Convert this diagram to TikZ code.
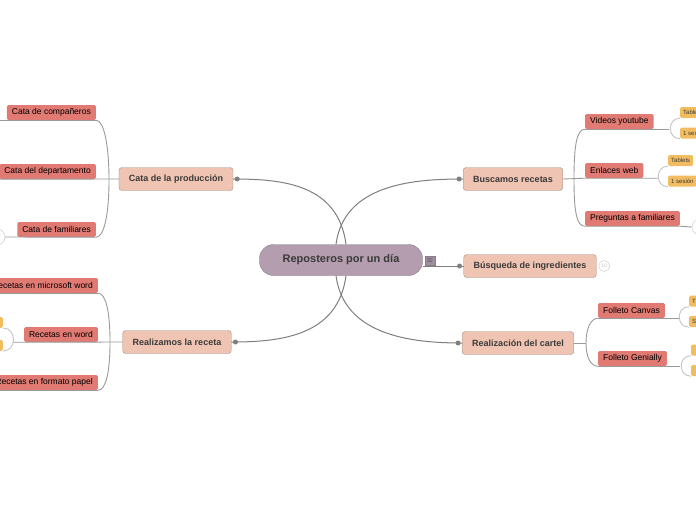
\documentclass[tikz,border=0pt]{standalone}
\usepackage{fontspec}
\setmainfont{Liberation Sans}
\usepackage{tikz}
\usetikzlibrary{arrows.meta,calc,positioning}
\usepackage{xcolor}
\definecolor{RootMauve}{HTML}{B39DAE}
\definecolor{RootEdge}{HTML}{8C7A88}
\definecolor{MainPeach}{HTML}{F0C4B2}
\definecolor{MainEdge}{HTML}{A0928C}
\definecolor{SubRed}{HTML}{E07A72}
\definecolor{LeafOrange}{HTML}{F2BC60}
\definecolor{LineMain}{HTML}{7F7F7F}
\definecolor{LineSub}{HTML}{9A9A9A}
\definecolor{LineLeaf}{HTML}{C4C4C4}
\definecolor{TextDark}{HTML}{3A3A3A}

\begin{document}
\begin{tikzpicture}[x=1pt,y=-1pt,
  rootnode/.style={rounded corners=14pt,fill=RootMauve,draw=RootEdge,minimum height=31pt,minimum width=163pt,
    font=\fontsize{11}{13}\selectfont\bfseries,text=TextDark},
  mainnode/.style={rounded corners=3pt,fill=MainPeach,draw=MainEdge,minimum height=23pt,inner xsep=10pt,
    font=\fontsize{9}{11}\selectfont\bfseries,text=TextDark},
  subnode/.style={rounded corners=1.5pt,fill=SubRed,minimum height=15pt,inner xsep=5pt,inner ysep=0pt,
    font=\fontsize{8.5}{10}\selectfont,text=black},
  leafnode/.style={rounded corners=1.5pt,fill=LeafOrange,minimum height=11pt,inner xsep=3pt,inner ysep=0pt,
    anchor=west,font=\fontsize{6}{7}\selectfont,text=TextDark},
  iconbox/.style={fill=RootMauve!90!black,draw=RootEdge,minimum width=10pt,minimum height=9pt,inner sep=0pt,
    font=\fontsize{8}{8}\selectfont,text=TextDark},
  countcirc/.style={circle,draw=LineLeaf,fill=white,minimum size=11pt,inner sep=0pt,
    font=\fontsize{5}{5}\selectfont,text=LineLeaf},
  foldcirc/.style={circle,draw=LineLeaf,fill=white,minimum size=16pt,inner sep=0pt},
  jointdot/.style={circle,fill=LineMain,minimum size=5pt,inner sep=0pt},
  mainline/.style={draw=LineMain,line width=1pt},
  subline/.style={draw=LineSub,line width=0.9pt},
  leafline/.style={draw=LineLeaf,line width=0.9pt}]
  \fill[white] (0,0) rectangle (696,520);
  \useasboundingbox (0,0) rectangle (696,520);

  \node[rootnode] (root) at (341,260) {Reposteros por un día};
  \node[iconbox] (menu) at (430,261) {$\equiv$};

  \node[mainnode] (b1) at (176,179) {Cata de la producción};
  \node[mainnode] (b2) at (177,342) {Realizamos la receta};
  \node[mainnode] (b3) at (513,179) {Buscamos recetas};
  \node[mainnode] (b4) at (530,266) {Búsqueda de ingredientes};
  \node[mainnode] (b5) at (518,343) {Realización del cartel};

  \draw[mainline] ([xshift=5pt]root.north) .. controls +(-8,-60) and +(50,0) .. (b1.east);
  \draw[mainline] ([xshift=5pt]root.south) .. controls +(-8,60) and +(50,0) .. (b2.east);
  \draw[mainline] ([xshift=-5pt]root.north) .. controls +(8,-60) and +(-50,0) .. (b3.west);
  \draw[mainline] ([xshift=-5pt]root.south) .. controls +(8,60) and +(-50,0) .. (b5.west);
  \draw[mainline] (root.east |- b4.west) -- (b4.west);
  \node[iconbox] (menu) at (430,261) {$\equiv$};
  \node[jointdot] (d1) at ([xshift=4pt]b1.east) {};
  \node[jointdot] (d2) at ([xshift=4pt]b2.east) {};
  \node[jointdot] (d3) at ([xshift=-4pt]b3.west) {};
  \node[jointdot] (d4) at ([xshift=-4pt]b4.west) {};
  \node[jointdot] (d5) at ([xshift=-4pt]b5.west) {};
  \node[countcirc,anchor=west] (cnt) at ([xshift=2pt]b4.east) {10};

  % left side
  \node[subnode,anchor=east] (s1) at (96,112.5) {Cata de compañeros};
  \node[subnode,anchor=east] (s2) at (96,171.5) {Cata del departamento};
  \node[subnode,anchor=east] (s3) at (96,229.5) {Cata de familiares};
  \node[subnode,anchor=east] (s4) at (98,285.5) {Recetas en microsoft word};
  \node[subnode,anchor=east] (s5) at (98,334.5) {Recetas en word};
  \node[subnode,anchor=east] (s6) at (98,382.5) {Recetas en formato papel};
  \coordinate (k1) at (109,180);
  \coordinate (k2) at (110,342);
  \node[foldcirc] (c1) at (-3,237) {};
  \node[leafnode,anchor=south east,minimum width=16pt] (o9) at (3,328) {};
  \node[leafnode,anchor=south east,minimum width=16pt] (o10) at (3,351) {};

  \draw[subline] (s1.south east) .. controls +(8,0) and +(0,-35) .. (k1) .. controls +(0,35) and +(8,0) .. (s3.south east);
  \draw[subline] (b1.west) -- (s2.south west) -- ++(-5,0);
  \draw[subline] (s1.south east) -- (s1.south west) -- ++(-10,0);
  \draw[subline] (s3.south east) -- (c1.east);
  \draw[subline] (s4.south east) .. controls +(8,0) and +(0,-30) .. (k2) .. controls +(0,30) and +(8,0) .. (s6.south east);
  \draw[subline] (b2.west) -- (s5.south west) -- ++(-11,0);
  \draw[subline] (s4.south east) -- (s4.south west) -- ++(-10,0);
  \draw[subline] (s6.south east) -- (s6.south west) -- ++(-10,0);
  \draw[leafline] (o9.south east) .. controls +(14,0) and +(14,0) .. (o10.south east);

  % right side
  \node[subnode,anchor=west] (s7) at (585,121.5) {Videos youtube};
  \node[subnode,anchor=west] (s8) at (585,170.5) {Enlaces web};
  \node[subnode,anchor=west] (s9) at (585,218.5) {Preguntas a familiares};
  \node[subnode,anchor=west] (s10) at (598,310.5) {Folleto Canvas};
  \node[subnode,anchor=west] (s11) at (598,358.5) {Folleto Genially};
  \coordinate (k3) at (574,179);
  \coordinate (k4) at (586,343);
  \node[foldcirc] (c2) at (700,227) {};

  \node[leafnode] (o1) at (680,112.5) {Tablets};
  \node[leafnode] (o2) at (680,133) {1 sesión};
  \node[leafnode] (o3) at (668,160.5) {Tablets};
  \node[leafnode] (o4) at (668,181) {1 sesión};
  \node[leafnode] (o5) at (689,301) {T};
  \node[leafnode] (o6) at (689,321.5) {S};
  \node[leafnode,minimum width=16pt] (o7) at (691,350) {};
  \node[leafnode,minimum width=16pt] (o8) at (691,370.5) {};

  \draw[subline] (s7.south west) .. controls +(-8,0) and +(0,-35) .. (k3) .. controls +(0,35) and +(-8,0) .. (s9.south west);
  \draw[subline] (b3.east) -- (s8.south west) -- (s8.south east) -- ++(14,0);
  \draw[subline] (s7.south west) -- (s7.south east) -- ++(15,0);
  \draw[subline] (s9.south west) -- (s9.south east) -- (c2.west);
  \draw[subline] (s10.south west) .. controls +(-7,0) and +(0,-15) .. (k4) .. controls +(0,15) and +(-7,0) .. (s11.south west);
  \draw[subline] (b5.east) -- (k4);
  \draw[subline] (s10.south west) -- (s10.south east) -- ++(15,0);
  \draw[subline] (s11.south west) -- (s11.south east) -- ++(13,0);

  \draw[leafline] (o1.south west) .. controls +(-13,0) and +(-13,0) .. (o2.south west);
  \draw[leafline] (o3.south west) .. controls +(-13,0) and +(-13,0) .. (o4.south west);
  \draw[leafline] (o5.south west) .. controls +(-13,0) and +(-13,0) .. (o6.south west);
  \draw[leafline] (o7.south west) .. controls +(-13,0) and +(-13,0) .. (o8.south west);
\end{tikzpicture}
\end{document}
